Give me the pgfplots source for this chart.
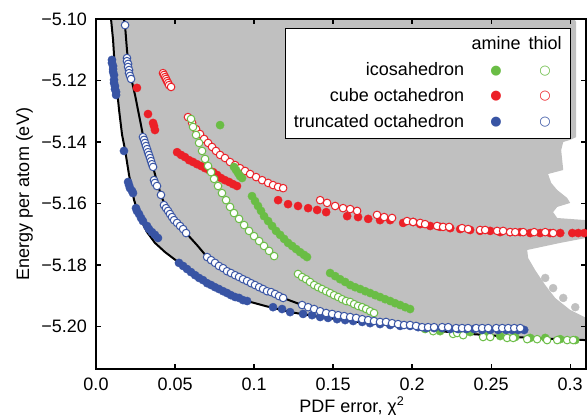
\documentclass[border=0pt]{standalone}
\usepackage{fontspec}
\setmainfont{Liberation Sans}
\newfontfamily\symfont{DejaVu Sans}
\usepackage{pgfplots}
\pgfplotsset{compat=1.18}
\definecolor{cgreen}{RGB}{106,189,69}
\definecolor{cred}{RGB}{236,32,39}
\definecolor{cblue}{RGB}{56,84,164}
\definecolor{cgray}{RGB}{192,192,192}
\begin{document}
\begin{tikzpicture}
\begin{axis}[
  scale only axis, width=490bp, height=350bp,
  xmin=0, xmax=0.31, ymin=-5.2138, ymax=-5.10,
  xtick={0,0.05,0.1,0.15,0.2,0.25,0.3},
  xticklabels={0.0,0.05,0.1,0.15,0.2,0.25,0.3},
  ytick={-5.20,-5.18,-5.16,-5.14,-5.12,-5.10},
  yticklabels={−5.20,−5.18,−5.16,−5.14,−5.12,−5.10},
  scaled ticks=false,
  tick align=inside, major tick length=5bp,
  every tick/.style={black, line width=1.3bp},
  axis line style={black, line width=1.6bp},
  axis on top,
  font=\fontsize{18bp}{21.6bp}\selectfont,
  tick label style={font=\fontsize{18bp}{21.6bp}\selectfont, inner sep=0pt},
  xticklabel shift=9bp, yticklabel shift=9bp,
  every axis x label/.style={at={(axis description cs:0.5224,0)}, anchor=base, yshift=-43bp},
  every axis y label/.style={at={(axis description cs:-0.1367,0.5)}, rotate=90, anchor=base},
  xlabel={PDF error, χ\textsuperscript{2}},
  ylabel={Energy per atom (eV)},
]
% gray cloud
\addplot[fill=cgray, draw=none, forget plot] coordinates {
(0.0095,-5.0990)(0.3013,-5.0990)(0.3038,-5.1010)(0.3038,-5.1384)(0.3000,-5.1393)(0.2956,-5.1400)
(0.2943,-5.1426)(0.2956,-5.1491)(0.2860,-5.1504)(0.2880,-5.1533)(0.2918,-5.1556)(0.2981,-5.1582)
(0.3000,-5.1598)(0.2918,-5.1611)(0.2892,-5.1628)(0.2918,-5.1647)(0.3101,-5.1654)(0.3101,-5.1712)
(0.2937,-5.1728)(0.2728,-5.1751)(0.2734,-5.1777)(0.2778,-5.1816)(0.2842,-5.1865)(0.2905,-5.1907)
(0.3000,-5.1946)(0.3101,-5.1972)(0.3101,-5.2044)
(0.2937,-5.2041)(0.2747,-5.2037)(0.2557,-5.2031)(0.2367,-5.2024)(0.2177,-5.2015)(0.1987,-5.2002)
(0.1797,-5.1992)(0.1608,-5.1982)(0.1418,-5.1969)(0.1228,-5.1953)(0.1070,-5.1933)(0.0956,-5.1917)
(0.0848,-5.1894)(0.0753,-5.1872)(0.0677,-5.1849)(0.0595,-5.1820)(0.0519,-5.1790)(0.0437,-5.1758)
(0.0373,-5.1728)(0.0323,-5.1693)(0.0278,-5.1647)(0.0241,-5.1589)(0.0209,-5.1507)(0.0184,-5.1426)
(0.0165,-5.1377)(0.0146,-5.1296)(0.0133,-5.1231)(0.0120,-5.1166)(0.0108,-5.1068)(0.0095,-5.1000)
};
\addplot[only marks, mark=*, mark size=4bp, color=cgray, forget plot] coordinates {
(0.2842,-5.1842)(0.2892,-5.1875)(0.2956,-5.1907)(0.3032,-5.1937)
};
% black fronts
\addplot[black, line width=2bp, forget plot] coordinates {
(0.0095,-5.1000)(0.0108,-5.1068)(0.0120,-5.1166)(0.0133,-5.1231)(0.0146,-5.1296)(0.0165,-5.1377)
(0.0184,-5.1426)(0.0209,-5.1507)(0.0241,-5.1589)(0.0278,-5.1647)(0.0323,-5.1693)(0.0373,-5.1728)
(0.0437,-5.1758)(0.0519,-5.1790)(0.0595,-5.1820)(0.0677,-5.1849)(0.0753,-5.1872)(0.0848,-5.1894)
(0.0956,-5.1917)(0.1070,-5.1933)(0.1228,-5.1953)(0.1418,-5.1969)(0.1608,-5.1982)(0.1797,-5.1992)
(0.1987,-5.2002)(0.2177,-5.2015)(0.2367,-5.2024)(0.2557,-5.2031)(0.2747,-5.2037)(0.2937,-5.2041)
(0.3101,-5.2044)
};
\addplot[black, line width=2bp, forget plot] coordinates {
(0.0177,-5.1000)(0.0184,-5.1023)(0.0196,-5.1101)(0.0209,-5.1166)(0.0228,-5.1205)(0.0247,-5.1247)
(0.0272,-5.1312)(0.0297,-5.1377)(0.0329,-5.1433)(0.0361,-5.1481)(0.0386,-5.1530)(0.0411,-5.1572)
(0.0443,-5.1615)(0.0500,-5.1654)(0.0570,-5.1696)(0.0639,-5.1735)(0.0703,-5.1774)(0.0785,-5.1803)
(0.0880,-5.1833)(0.0975,-5.1855)(0.1070,-5.1881)(0.1184,-5.1907)(0.1304,-5.1930)(0.1418,-5.1950)
(0.1544,-5.1963)(0.1671,-5.1976)(0.1797,-5.1985)(0.1924,-5.1995)(0.2019,-5.2002)
};
% cube octahedron, amine
\addplot[only marks, mark=*, mark size=4.1bp, color=cred, forget plot] coordinates {
(0.0259,-5.1224)(0.0329,-5.1309)(0.0361,-5.1338)(0.0367,-5.1348)(0.0373,-5.1361)
(0.0513,-5.1433)(0.0538,-5.1442)(0.0563,-5.1449)(0.0589,-5.1459)(0.0614,-5.1465)(0.0639,-5.1472)
(0.0665,-5.1478)(0.0690,-5.1485)(0.0715,-5.1491)(0.0741,-5.1498)(0.0766,-5.1507)(0.0791,-5.1517)
(0.0816,-5.1524)(0.0842,-5.1530)(0.0867,-5.1537)(0.0892,-5.1543)
(0.1152,-5.1589)(0.1215,-5.1602)(0.1278,-5.1608)(0.1342,-5.1615)(0.1399,-5.1621)(0.1456,-5.1628)
(0.1589,-5.1641)(0.1658,-5.1644)(0.1722,-5.1650)(0.1797,-5.1654)(0.1861,-5.1654)(0.1943,-5.1663)
(0.2006,-5.1660)
(0.2051,-5.1667)(0.2114,-5.1673)(0.2177,-5.1676)(0.2241,-5.1680)(0.2304,-5.1683)(0.2367,-5.1686)
(0.2430,-5.1689)(0.2494,-5.1689)(0.2557,-5.1693)(0.2620,-5.1693)(0.2684,-5.1693)(0.2747,-5.1696)
(0.2810,-5.1696)(0.2873,-5.1696)(0.2937,-5.1696)(0.3013,-5.1696)(0.3051,-5.1696)(0.3089,-5.1696)
};
% cube octahedron, thiol
\addplot[only marks, mark=*, mark size=3.8bp, mark options={fill=white, draw=cred, line width=1bp}, forget plot] coordinates {
(0.0424,-5.1176)(0.0430,-5.1182)(0.0437,-5.1189)(0.0443,-5.1195)(0.0449,-5.1202)(0.0456,-5.1208)
(0.0462,-5.1215)(0.0475,-5.1221)
(0.0582,-5.1319)(0.0608,-5.1338)(0.0633,-5.1358)(0.0658,-5.1374)(0.0684,-5.1390)(0.0709,-5.1403)
(0.0734,-5.1416)(0.0759,-5.1429)(0.0785,-5.1442)(0.0816,-5.1452)(0.0848,-5.1465)(0.0880,-5.1475)
(0.0911,-5.1485)(0.0943,-5.1494)(0.0975,-5.1504)(0.1013,-5.1514)(0.1051,-5.1524)(0.1089,-5.1533)
(0.1120,-5.1540)(0.1152,-5.1546)(0.1184,-5.1550)
(0.1418,-5.1589)(0.1462,-5.1598)(0.1513,-5.1608)(0.1563,-5.1615)(0.1608,-5.1618)(0.1652,-5.1624)
(0.1778,-5.1637)(0.1823,-5.1644)(0.1873,-5.1647)(0.1968,-5.1657)(0.2006,-5.1660)(0.2051,-5.1663)
(0.2082,-5.1667)(0.2158,-5.1673)(0.2196,-5.1676)(0.2234,-5.1676)(0.2316,-5.1680)(0.2354,-5.1683)
(0.2430,-5.1686)(0.2462,-5.1686)(0.2538,-5.1689)(0.2576,-5.1689)(0.2620,-5.1693)(0.2652,-5.1693)
(0.2703,-5.1693)(0.2772,-5.1693)(0.2842,-5.1693)(0.2892,-5.1696)
};
% icosahedron, amine
\addplot[only marks, mark=*, mark size=4.1bp, color=cgreen, forget plot] coordinates {
(0.0785,-5.1345)
(0.0873,-5.1481)(0.0886,-5.1491)(0.0899,-5.1501)(0.0911,-5.1511)(0.0924,-5.1517)
(0.0987,-5.1576)(0.1006,-5.1592)(0.1025,-5.1608)(0.1044,-5.1624)(0.1063,-5.1641)(0.1089,-5.1657)
(0.1114,-5.1673)(0.1139,-5.1689)(0.1165,-5.1702)(0.1190,-5.1715)(0.1215,-5.1728)(0.1241,-5.1738)
(0.1266,-5.1748)(0.1291,-5.1758)(0.1316,-5.1767)(0.1335,-5.1774)
(0.1481,-5.1826)(0.1513,-5.1836)(0.1544,-5.1846)(0.1576,-5.1855)(0.1608,-5.1865)(0.1639,-5.1872)
(0.1671,-5.1878)(0.1703,-5.1885)(0.1734,-5.1891)(0.1766,-5.1898)(0.1797,-5.1904)(0.1829,-5.1911)
(0.1861,-5.1917)(0.1892,-5.1924)(0.1924,-5.1930)(0.1956,-5.1937)(0.1987,-5.1943)
(0.2082,-5.2008)(0.2177,-5.2015)(0.2272,-5.2018)(0.2367,-5.2018)(0.2462,-5.2024)(0.2557,-5.2031)
(0.2652,-5.2034)(0.2747,-5.2037)(0.2842,-5.2037)(0.2937,-5.2041)(0.3032,-5.2044)
};
% icosahedron, thiol
\addplot[only marks, mark=*, mark size=3.8bp, mark options={fill=white, draw=cgreen, line width=1bp}, forget plot] coordinates {
(0.0601,-5.1325)(0.0614,-5.1351)(0.0633,-5.1377)(0.0652,-5.1403)(0.0671,-5.1429)(0.0690,-5.1455)
(0.0709,-5.1478)(0.0728,-5.1498)(0.0747,-5.1520)(0.0772,-5.1543)(0.0797,-5.1566)(0.0823,-5.1589)
(0.0848,-5.1611)(0.0873,-5.1631)(0.0905,-5.1650)(0.0937,-5.1670)(0.0968,-5.1689)(0.1000,-5.1706)
(0.1032,-5.1722)(0.1063,-5.1738)(0.1095,-5.1754)(0.1127,-5.1771)
(0.1278,-5.1829)(0.1304,-5.1839)(0.1329,-5.1846)(0.1354,-5.1855)(0.1380,-5.1865)(0.1405,-5.1872)
(0.1430,-5.1878)(0.1456,-5.1885)(0.1481,-5.1891)(0.1506,-5.1898)(0.1532,-5.1904)(0.1557,-5.1911)
(0.1582,-5.1917)(0.1608,-5.1920)(0.1633,-5.1927)(0.1658,-5.1933)(0.1684,-5.1937)(0.1709,-5.1943)
(0.1734,-5.1950)(0.1759,-5.1956)
(0.2133,-5.2015)(0.2259,-5.2024)(0.2285,-5.2021)(0.2323,-5.2028)(0.2449,-5.2034)(0.2494,-5.2034)
(0.2601,-5.2037)(0.2639,-5.2037)(0.2728,-5.2041)(0.2791,-5.2041)(0.2854,-5.2044)(0.2918,-5.2044)
(0.2981,-5.2044)(0.3019,-5.2044)
};
% truncated octahedron, amine
\addplot[only marks, mark=*, mark size=4.1bp, color=cblue, forget plot] coordinates {
(0.0101,-5.1133)(0.0101,-5.1143)(0.0108,-5.1153)(0.0108,-5.1163)(0.0108,-5.1172)(0.0114,-5.1182)
(0.0114,-5.1198)(0.0114,-5.1208)(0.0120,-5.1218)(0.0120,-5.1228)(0.0127,-5.1237)(0.0127,-5.1247)
(0.0177,-5.1429)
(0.0203,-5.1530)(0.0209,-5.1540)(0.0215,-5.1550)(0.0228,-5.1559)(0.0234,-5.1566)
(0.0253,-5.1615)(0.0259,-5.1624)(0.0272,-5.1634)(0.0285,-5.1647)(0.0297,-5.1657)(0.0323,-5.1673)
(0.0335,-5.1683)(0.0354,-5.1693)(0.0373,-5.1702)(0.0392,-5.1712)
(0.0525,-5.1793)(0.0551,-5.1803)(0.0576,-5.1813)(0.0601,-5.1823)(0.0627,-5.1833)(0.0652,-5.1842)
(0.0677,-5.1849)(0.0703,-5.1859)(0.0728,-5.1865)(0.0753,-5.1872)(0.0778,-5.1878)(0.0804,-5.1885)
(0.0829,-5.1891)(0.0854,-5.1898)(0.0880,-5.1904)(0.0905,-5.1907)(0.0930,-5.1914)(0.0956,-5.1917)
(0.1120,-5.1937)(0.1177,-5.1943)(0.1228,-5.1953)(0.1310,-5.1959)(0.1367,-5.1963)(0.1418,-5.1969)
(0.1468,-5.1972)(0.1525,-5.1976)(0.1576,-5.1979)(0.1627,-5.1982)(0.1684,-5.1985)(0.1734,-5.1989)
(0.1797,-5.1992)(0.1861,-5.1995)(0.1924,-5.1998)(0.1987,-5.1998)
(0.2038,-5.2002)(0.2089,-5.2005)(0.2139,-5.2005)(0.2190,-5.2005)(0.2241,-5.2008)(0.2291,-5.2008)
(0.2342,-5.2008)(0.2392,-5.2008)(0.2443,-5.2011)(0.2494,-5.2011)(0.2544,-5.2011)(0.2595,-5.2011)
(0.2633,-5.2011)(0.2671,-5.2011)(0.2709,-5.2011)
};
% truncated octahedron, thiol
\addplot[only marks, mark=*, mark size=3.8bp, mark options={fill=white, draw=cblue, line width=1bp}, forget plot] coordinates {
(0.0184,-5.1020)
(0.0196,-5.1127)(0.0196,-5.1137)(0.0203,-5.1146)(0.0203,-5.1156)(0.0209,-5.1166)(0.0209,-5.1176)
(0.0215,-5.1185)(0.0222,-5.1195)
(0.0297,-5.1384)(0.0304,-5.1393)(0.0310,-5.1403)(0.0316,-5.1413)(0.0323,-5.1423)(0.0329,-5.1433)
(0.0335,-5.1442)(0.0342,-5.1452)(0.0348,-5.1462)(0.0354,-5.1472)(0.0361,-5.1481)
(0.0367,-5.1524)(0.0373,-5.1533)(0.0386,-5.1543)(0.0411,-5.1572)
(0.0430,-5.1605)(0.0443,-5.1615)(0.0456,-5.1624)(0.0468,-5.1634)(0.0481,-5.1644)(0.0494,-5.1654)
(0.0513,-5.1663)(0.0532,-5.1673)(0.0551,-5.1683)(0.0570,-5.1696)
(0.0703,-5.1774)(0.0728,-5.1784)(0.0753,-5.1793)(0.0778,-5.1803)(0.0804,-5.1810)(0.0829,-5.1820)
(0.0854,-5.1826)(0.0880,-5.1833)(0.0905,-5.1839)(0.0930,-5.1846)(0.0956,-5.1852)(0.0981,-5.1859)
(0.1006,-5.1865)(0.1032,-5.1872)(0.1057,-5.1878)(0.1082,-5.1885)(0.1108,-5.1888)(0.1133,-5.1894)
(0.1158,-5.1901)(0.1184,-5.1907)
(0.1304,-5.1930)(0.1342,-5.1937)(0.1380,-5.1943)(0.1418,-5.1950)(0.1456,-5.1956)(0.1494,-5.1959)
(0.1532,-5.1963)(0.1570,-5.1966)(0.1608,-5.1969)(0.1646,-5.1972)(0.1684,-5.1976)(0.1722,-5.1979)
(0.1759,-5.1982)(0.1797,-5.1985)(0.1835,-5.1985)(0.1873,-5.1989)(0.1911,-5.1992)(0.1949,-5.1995)
(0.1987,-5.1995)(0.2025,-5.1998)
(0.2063,-5.2002)(0.2101,-5.2002)(0.2139,-5.2002)(0.2190,-5.2002)(0.2228,-5.2002)(0.2278,-5.2005)
(0.2316,-5.2005)(0.2354,-5.2005)(0.2405,-5.2005)(0.2443,-5.2005)(0.2481,-5.2005)(0.2532,-5.2005)
(0.2570,-5.2005)(0.2608,-5.2005)(0.2646,-5.2005)(0.2684,-5.2005)
};
\node[draw=black, line width=0.9bp, fill=white, anchor=north west, inner xsep=8.5bp, inner ysep=3bp]
  at (rel axis cs:0.3857,0.9743) {%
  \renewcommand{\arraystretch}{1.2}%
  \begin{tabular}{@{}r@{\hspace{7.5bp}}c@{\hspace{8bp}}c@{}}
   & amine & thiol\\
  icosahedron & \raisebox{1.5bp}{\color{cgreen}\symfont\fontsize{13bp}{13bp}\selectfont ●} & \raisebox{1.5bp}{\color{cgreen}\symfont\fontsize{13bp}{13bp}\selectfont ○}\\
  cube octahedron & \raisebox{1.5bp}{\color{cred}\symfont\fontsize{13bp}{13bp}\selectfont ●} & \raisebox{1.5bp}{\color{cred}\symfont\fontsize{13bp}{13bp}\selectfont ○}\\
  truncated octahedron & \raisebox{1.5bp}{\color{cblue}\symfont\fontsize{13bp}{13bp}\selectfont ●} & \raisebox{1.5bp}{\color{cblue}\symfont\fontsize{13bp}{13bp}\selectfont ○}
  \end{tabular}};
\end{axis}
\pgfresetboundingbox
\path[use as bounding box] ([xshift=-96bp,yshift=-46bp]current axis.south west) rectangle ([xshift=1bp,yshift=19bp]current axis.north east);
\end{tikzpicture}
\end{document}
